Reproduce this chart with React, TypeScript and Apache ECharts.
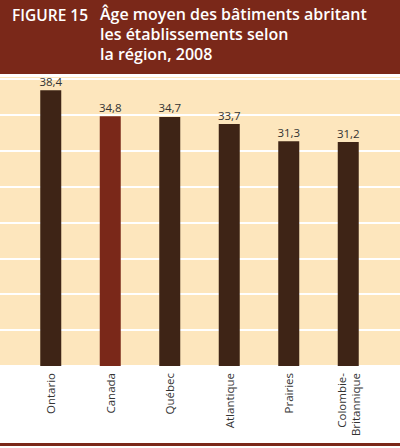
import React, { useEffect, useRef } from "react";
import * as echarts from "echarts";

const categories = ["Ontario", "Canada", "Québec", "Atlantique", "Prairies", "Colombie-\nBritannique"];
const values = [38.4, 34.8, 34.7, 33.7, 31.3, 31.2];
const highlighted = ["Canada"];
const titleLabel = "FIGURE 15";
const titleLines = ["Âge moyen des bâtiments abritant", "les établissements selon", "la région, 2008"];

const RED = "#7a2819";
const BROWN = "#3e2416";
const BEIGE = "#fde6bd";
const FONT = "'Open Sans', 'Noto Sans', sans-serif";

export default function App() {
  const ref = useRef<HTMLDivElement>(null);
  useEffect(() => {
    if (!ref.current) return;
    const chart = echarts.init(ref.current, undefined, { renderer: "svg" });
    const fmt = (v: number) => v.toFixed(1).replace(".", ",");
    chart.setOption({
      animation: false,
      backgroundColor: "#ffffff",
      textStyle: { fontFamily: FONT },
      grid: [
        { left: 0, right: 0, top: 76, bottom: 82, show: true, backgroundColor: BEIGE, borderWidth: 0 },
        { left: 21, right: 22, top: 76, bottom: 82 },
      ],
      xAxis: [
        { gridIndex: 0, type: "value", show: false, min: 0, max: 1 },
        {
          gridIndex: 1,
          type: "category",
          data: categories,
          axisLine: { show: false },
          axisTick: { show: false },
          axisLabel: {
            rotate: 90,
            margin: 7,
            fontSize: 11.5,
            lineHeight: 14,
            color: "#333333",
            fontFamily: FONT,
          },
        },
      ],
      yAxis: [
        {
          gridIndex: 0,
          type: "value",
          min: 0,
          max: 40.4,
          interval: 5,
          axisLabel: { show: false },
          axisLine: { show: false },
          axisTick: { show: false },
          splitLine: { show: true, lineStyle: { color: "#ffffff", width: 2 } },
        },
        {
          gridIndex: 1,
          type: "value",
          min: 0,
          max: 40.4,
          interval: 5,
          show: false,
          splitLine: { show: false },
        },
      ],
      series: [
        {
          type: "bar",
          xAxisIndex: 1,
          yAxisIndex: 1,
          barWidth: 21,
          data: values.map((v, i) => ({
            value: v,
            itemStyle: { color: highlighted.includes(categories[i]) ? RED : BROWN },
          })),
          label: {
            show: true,
            position: "top",
            distance: 3,
            fontSize: 11.5,
            color: "#333333",
            fontFamily: FONT,
            formatter: (p: any) => fmt(p.value),
          },
        },
      ],
      graphic: [
        { type: "rect", left: 0, top: 0, shape: { width: 400, height: 74 }, style: { fill: RED }, z: 0 },
        {
          type: "text",
          x: 12,
          y: 7,
          style: { text: titleLabel, fill: "#ffffff", font: `600 15.5px ${FONT}`, verticalAlign: "top" },
        },
        ...titleLines.map((t, i) => ({
          type: "text",
          x: 100,
          y: 6 + i * 20,
          style: { text: t, fill: "#ffffff", font: `600 16px ${FONT}`, verticalAlign: "top" },
        })),
        { type: "rect", left: 0, top: 443, shape: { width: 400, height: 3 }, style: { fill: RED } },
      ],
    });
    return () => chart.dispose();
  }, []);
  return <div ref={ref} style={{ position: "absolute", left: 0, top: 0, width: 400, height: 448 }} />;
}
